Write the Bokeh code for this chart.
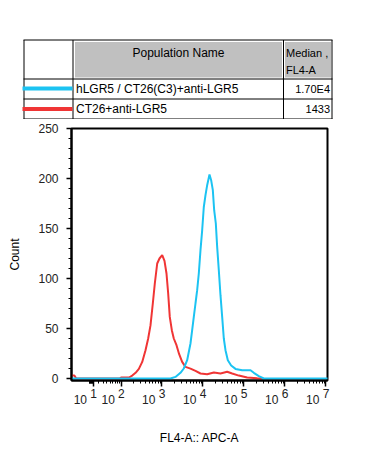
import math
from bokeh.plotting import figure
from bokeh.models import Range1d, FixedTicker, LinearAxis, CustomJSTickFormatter
from bokeh.core.properties import value
from bokeh.embed import file_html
from bokeh.resources import INLINE

FONT = "Liberation Sans"

# ---- table data ----
header_name = "Population Name"
header_median = ["Median ,", "FL4-A"]
population_names = ["hLGR5 / CT26(C3)+anti-LGR5", "CT26+anti-LGR5"]
median_fl4a = ["1.70E4", "1433"]
series_colors = ["#1cc3f2", "#f03535"]

# ---- histogram data (x = FL4-A intensity, y = count) ----
blue_fl = [-100, 1611, 2133, 2825, 3404, 4111, 4955, 5445, 5970, 6561, 7211, 7907, 8690,
           9550, 10470, 11510, 12650, 14420, 15810, 17380, 18750, 20560, 22180, 24320,
           26730, 29380, 32210, 35400, 40360, 48640, 62090, 90360, 144200, 173800, 230100,
           304800, 3.0e7]
blue_count = [0, 0, 1.6, 5.7, 10, 18.3, 35, 48.3, 61.6, 75, 88.3, 105, 128.3,
              148.2, 171.5, 183.3, 193.3, 204, 198.3, 188.3, 168.3, 155, 131.6, 108.3,
              83.3, 61.6, 40, 28.3, 18.3, 13, 9.6, 8.3, 8.3, 5.7, 2.3,
              0, 0]

red_fl = [-60, -26, -22, 89, 98, 155, 187, 226, 272, 329, 396, 460, 525, 597, 668, 764,
          869, 1012, 1151, 1288, 1416, 1549, 1738, 1941, 2259, 2624, 3105, 3741, 4955,
          6561, 8690, 12650, 18410, 26730, 38900, 51520, 74820, 119700, 209900, 278000]
red_count = [3, 3, 0, 0, 1.0, 1.0, 2.9, 5.7, 9.6, 16.6, 28.3, 40, 53.3, 75, 95, 115,
             120, 123.3, 117.6, 105, 85, 61.6, 48.3, 40, 33.3, 24.3, 16.6, 11.6, 9.9,
             7.6, 5.0, 4.3, 6.0, 5.0, 6.7, 5.0, 2.9, 1.0, 0.3, 0]

y_ticks = [0, 50, 100, 150, 200, 250]
x_decades = [1, 2, 3, 4, 5, 6, 7]
x_axis_label = "FL4-A:: APC-A"
y_axis_label = "Count"

# biexponential display scale (linear near zero, logarithmic above)
BIEX_C = 15.6


def biex(v):
    return math.log10(v / 2 + math.sqrt(v * v / 4 + BIEX_C * BIEX_C))


W = 382

# ================= table (its own root, page pixel coordinates) =================
tab = figure(width=W, height=119, x_range=Range1d(0, W), y_range=Range1d(119, 0),
             x_axis_type=None, y_axis_type=None, toolbar_location=None,
             output_backend="svg", min_border=0, outline_line_color=None)
tab.grid.visible = False

tab.quad(left=[74.5, 284.5], right=[281.5, 330.5], top=[41.5, 41.5], bottom=[77, 77],
         fill_color="#c0c0c0", line_color=None)
tab.segment(x0=[23] * 4, x1=[332] * 4, y0=[39.5, 78.5, 98.5, 118.5],
            y1=[39.5, 78.5, 98.5, 118.5], line_color="black", line_width=1)
tab.segment(x0=[23.5, 72.5, 283, 331.5], x1=[23.5, 72.5, 283, 331.5],
            y0=[39.5] * 4, y1=[118.5] * 4, line_color="black", line_width=1)
row_y = [88, 108.5]
tab.segment(x0=[22, 22], x1=[72, 72], y0=row_y, y1=row_y, line_color=series_colors,
            line_width=4)

txt = dict(text_font=value(FONT), text_color="black", text_baseline="middle")
tab.text(x=[178], y=[52], text=[header_name], text_align="center",
         text_font_size="12px", **txt)
tab.text(x=[285.5, 285.5], y=[52, 69.5], text=header_median, text_align="left",
         text_font_size="11px", **txt)
tab.text(x=[75.5, 75.5], y=row_y, text=population_names, text_align="left",
         text_font_size="12px", **txt)
tab.text(x=[329.5, 329.5], y=row_y, text=median_fl4a, text_align="right",
         text_font_size="11px", **txt)

# ================= histogram =================
p = figure(width=W, height=344, x_range=Range1d(0.793, 7.037), y_range=Range1d(-2, 250),
           toolbar_location=None, output_backend="svg",
           min_border_left=71, min_border_right=55, min_border_top=9, min_border_bottom=83)
p.grid.visible = False
p.outline_line_color = "black"
p.outline_line_width = 2

p.line([biex(v) for v in red_fl], red_count, line_color=series_colors[1], line_width=2)
p.line([biex(v) for v in blue_fl], blue_count, line_color=series_colors[0], line_width=2)

# y axis
ya = p.yaxis[0]
ya.ticker = FixedTicker(ticks=y_ticks, minor_ticks=list(range(0, 260, 10)))
ya.axis_line_width = 2
ya.axis_line_color = "black"
ya.major_tick_out = 5
ya.major_tick_in = 0
ya.minor_tick_out = 3
ya.minor_tick_in = 0
ya.major_tick_line_width = 1.5
ya.major_label_text_font = FONT
ya.major_label_text_font_size = "12px"
ya.major_label_text_color = "#222222"
ya.major_label_standoff = 8
ya.axis_label = y_axis_label
ya.axis_label_text_font = FONT
ya.axis_label_text_font_size = "12px"
ya.axis_label_text_font_style = "normal"
ya.axis_label_text_color = "black"
ya.axis_label_standoff = 13

# x axis: ticks at decades (biex positions), exponent digits as labels
xa = p.xaxis[0]
major_pos = [biex(10 ** d) for d in x_decades]
minor_pos = [biex(k * 10 ** d) for d in range(0, 8) for k in range(2, 10)]
xa.ticker = FixedTicker(ticks=major_pos, minor_ticks=minor_pos)
xa.formatter = CustomJSTickFormatter(args=dict(pos=major_pos, dec=x_decades), code="""
    let best = 0, bd = 1e9;
    for (let i = 0; i < pos.length; i++) {
        const dd = Math.abs(pos[i] - tick);
        if (dd < bd) { bd = dd; best = i; }
    }
    return String(dec[best]);
""")
xa.axis_line_width = 2
xa.axis_line_color = "black"
xa.major_tick_out = 6
xa.major_tick_in = 0
xa.minor_tick_out = 3
xa.minor_tick_in = 0
xa.major_tick_line_width = 1.5
xa.major_label_text_font = FONT
xa.major_label_text_font_size = "12px"
xa.major_label_text_color = "#222222"
xa.major_label_standoff = 2

# second axis below carrying the "10" base of each label
base_shift = 13.2 / 41.0  # base sits left of its superscript
xb = LinearAxis(ticker=FixedTicker(ticks=[pp - base_shift for pp in major_pos], minor_ticks=[]),
                formatter=CustomJSTickFormatter(code="return '10';"))
xb.axis_line_color = None
xb.major_tick_line_color = None
xb.minor_tick_line_color = None
xb.major_tick_out = 0
xb.major_tick_in = 0
xb.minor_tick_out = 0
xb.minor_tick_in = 0
xb.major_label_text_font = FONT
xb.major_label_text_font_size = "12px"
xb.major_label_text_color = "#222222"
xb.major_label_standoff = -6
xb.axis_label = x_axis_label
xb.axis_label_text_font = FONT
xb.axis_label_text_font_size = "12px"
xb.axis_label_text_font_style = "normal"
xb.axis_label_text_color = "black"
xb.axis_label_standoff = 24
p.add_layout(xb, "below")

open("out.html", "w").write(file_html([tab, p], INLINE))
